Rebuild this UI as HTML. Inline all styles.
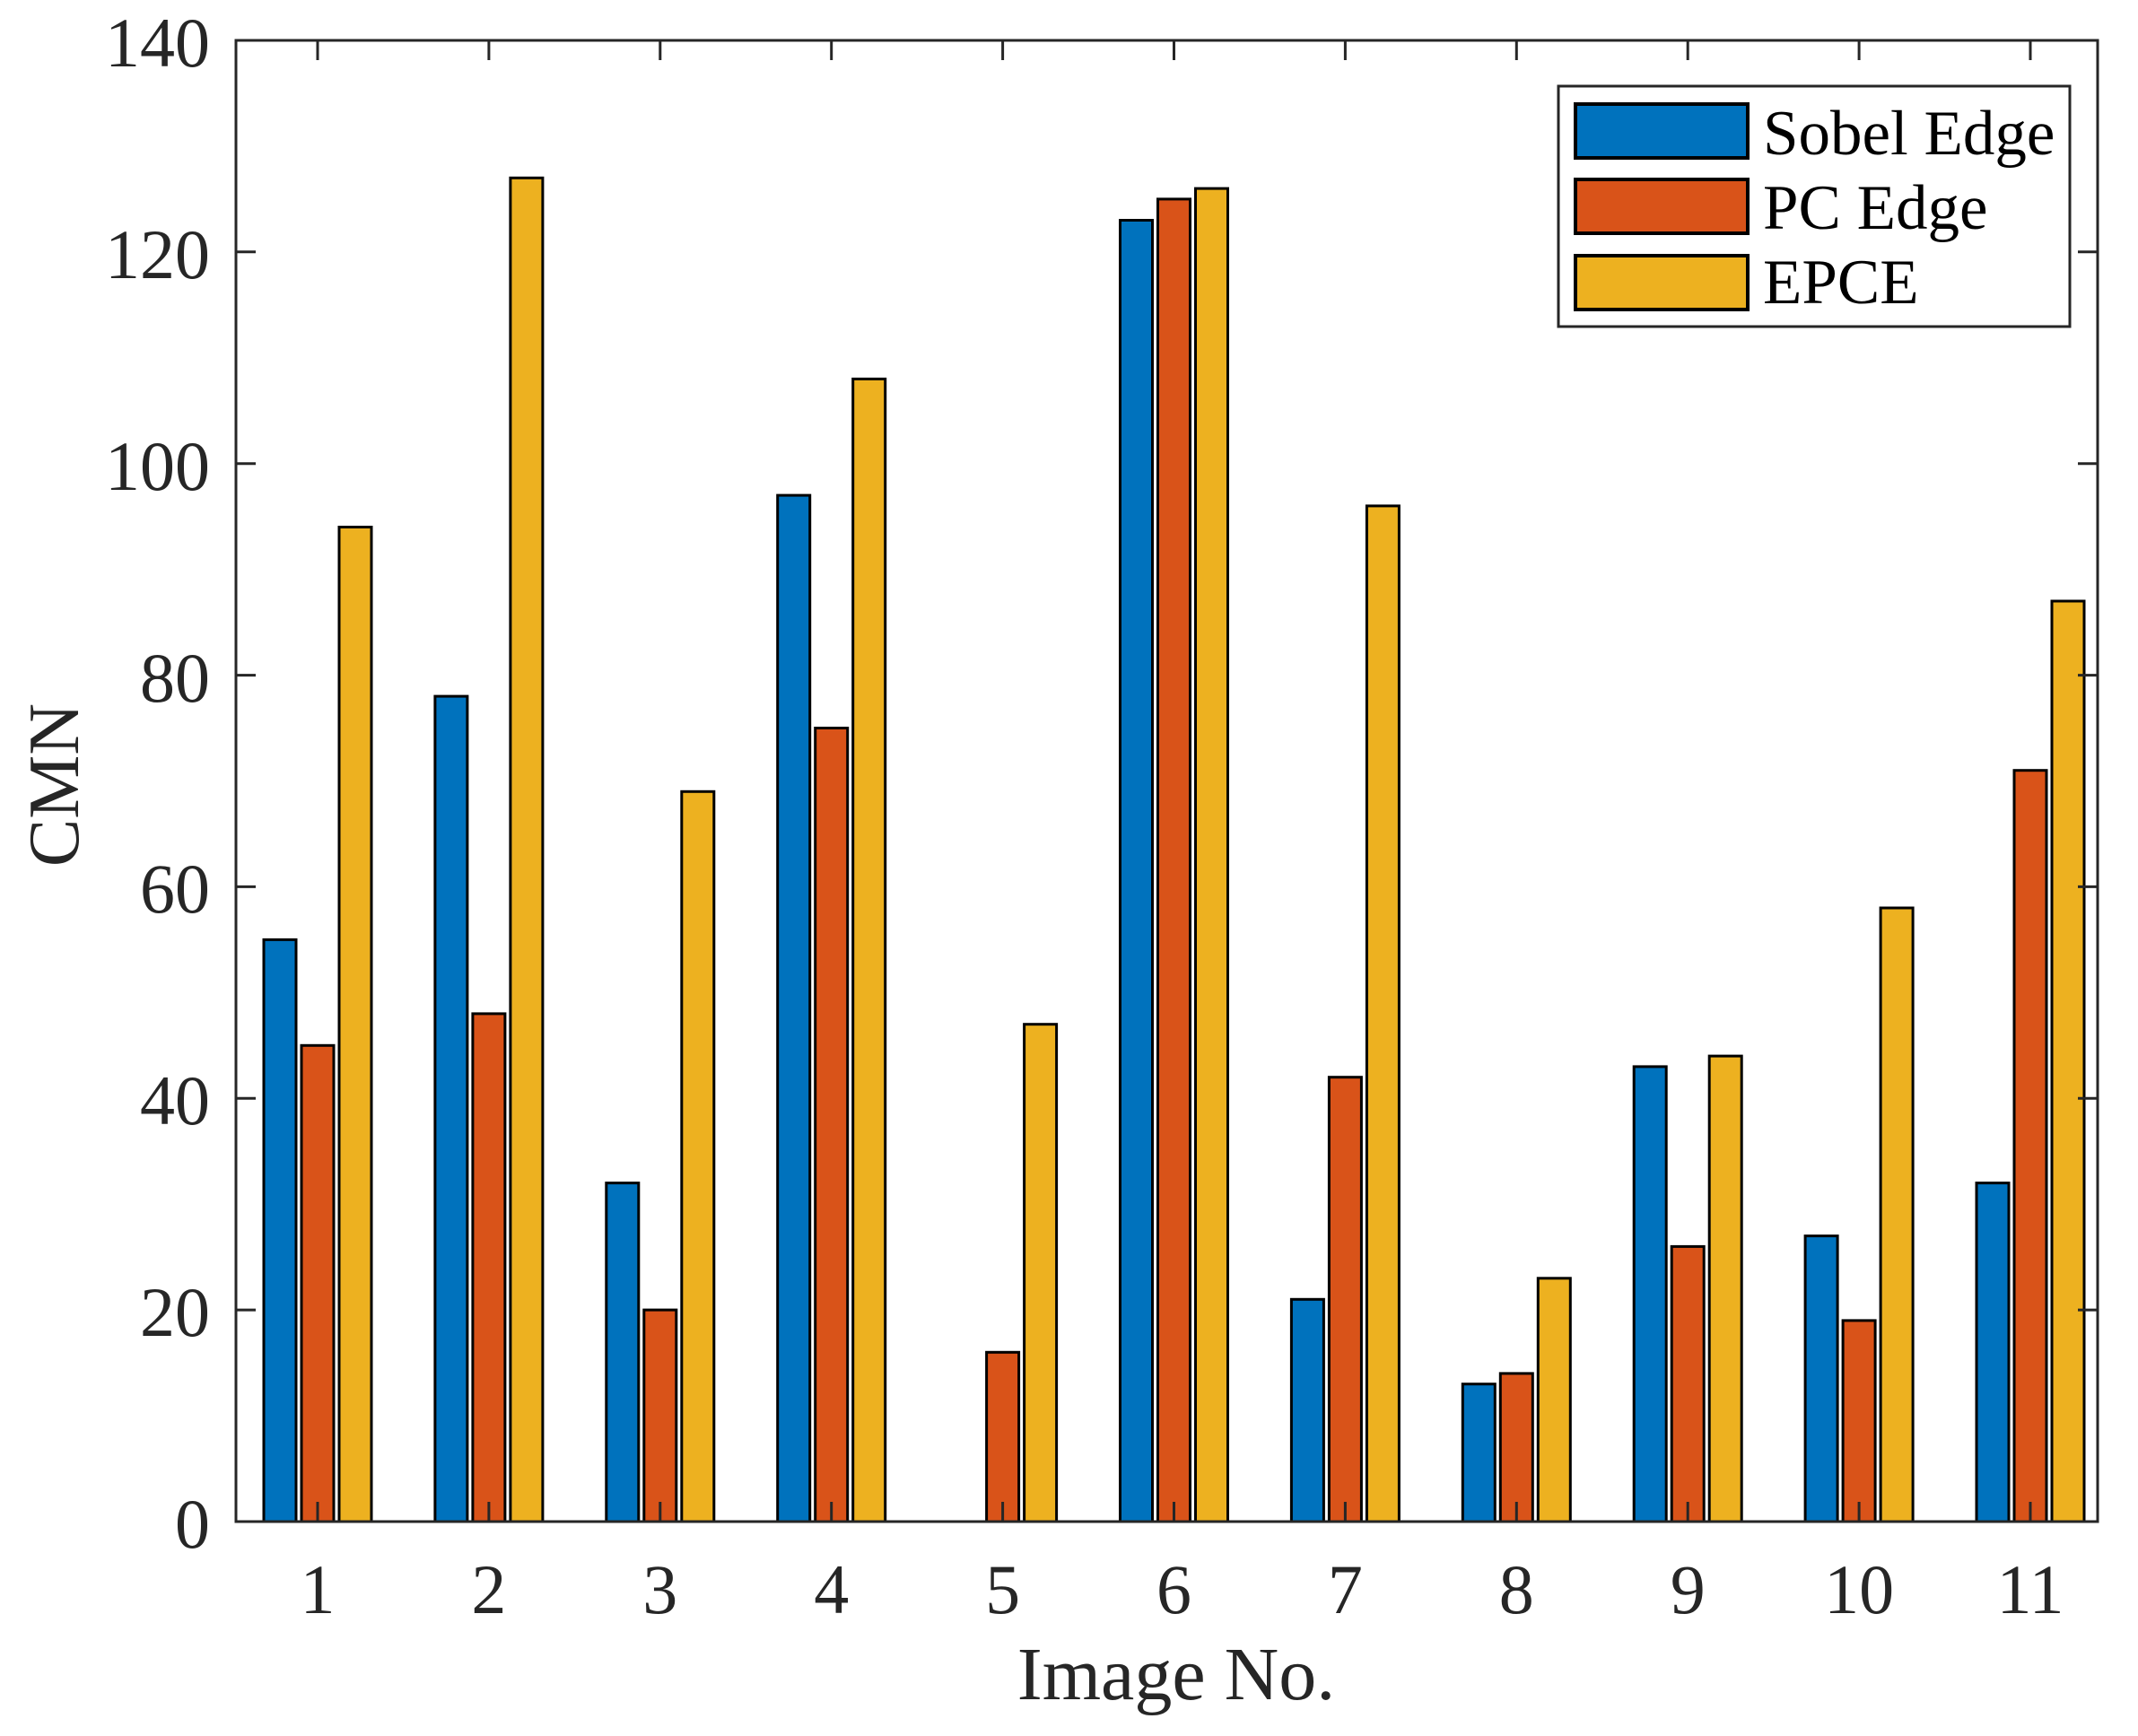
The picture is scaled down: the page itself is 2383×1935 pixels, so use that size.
<!DOCTYPE html>
<html><head><meta charset="utf-8"><style>html,body{margin:0;padding:0;background:#fff}svg{display:block}</style></head><body>
<svg width="2383" height="1935" viewBox="0 0 2383 1935" xmlns="http://www.w3.org/2000/svg" font-family="'Liberation Serif', serif" fill="#262626">
<rect width="2383" height="1935" fill="#fff"/>
<g stroke="#000" stroke-width="3">
<g transform="translate(354,0)"><rect x="-60" y="1047.4" width="36" height="648.6" fill="#0072BD"/><rect x="-18" y="1165.3" width="36" height="530.7" fill="#D95319"/><rect x="24" y="587.5" width="36" height="1108.5" fill="#EDB120"/></g>
<g transform="translate(544.9,0)"><rect x="-60" y="776.1" width="36" height="919.9" fill="#0072BD"/><rect x="-18" y="1129.9" width="36" height="566.1" fill="#D95319"/><rect x="24" y="198.3" width="36" height="1497.7" fill="#EDB120"/></g>
<g transform="translate(735.8,0)"><rect x="-60" y="1318.6" width="36" height="377.4" fill="#0072BD"/><rect x="-18" y="1460.1" width="36" height="235.9" fill="#D95319"/><rect x="24" y="882.3" width="36" height="813.7" fill="#EDB120"/></g>
<g transform="translate(926.7,0)"><rect x="-60" y="552.1" width="36" height="1143.9" fill="#0072BD"/><rect x="-18" y="811.5" width="36" height="884.5" fill="#D95319"/><rect x="24" y="422.4" width="36" height="1273.6" fill="#EDB120"/></g>
<g transform="translate(1117.6,0)"><rect x="-18" y="1507.3" width="36" height="188.7" fill="#D95319"/><rect x="24" y="1141.7" width="36" height="554.3" fill="#EDB120"/></g>
<g transform="translate(1308.5,0)"><rect x="-60" y="245.5" width="36" height="1450.5" fill="#0072BD"/><rect x="-18" y="221.9" width="36" height="1474.1" fill="#D95319"/><rect x="24" y="210.1" width="36" height="1485.9" fill="#EDB120"/></g>
<g transform="translate(1499.4,0)"><rect x="-60" y="1448.3" width="36" height="247.7" fill="#0072BD"/><rect x="-18" y="1200.7" width="36" height="495.3" fill="#D95319"/><rect x="24" y="563.9" width="36" height="1132.1" fill="#EDB120"/></g>
<g transform="translate(1690.3,0)"><rect x="-60" y="1542.7" width="36" height="153.3" fill="#0072BD"/><rect x="-18" y="1530.9" width="36" height="165.1" fill="#D95319"/><rect x="24" y="1424.8" width="36" height="271.2" fill="#EDB120"/></g>
<g transform="translate(1881.2,0)"><rect x="-60" y="1188.9" width="36" height="507.1" fill="#0072BD"/><rect x="-18" y="1389.4" width="36" height="306.6" fill="#D95319"/><rect x="24" y="1177.1" width="36" height="518.9" fill="#EDB120"/></g>
<g transform="translate(2072.1,0)"><rect x="-60" y="1377.6" width="36" height="318.4" fill="#0072BD"/><rect x="-18" y="1471.9" width="36" height="224.1" fill="#D95319"/><rect x="24" y="1012" width="36" height="684" fill="#EDB120"/></g>
<g transform="translate(2263,0)"><rect x="-60" y="1318.6" width="36" height="377.4" fill="#0072BD"/><rect x="-18" y="858.7" width="36" height="837.3" fill="#D95319"/><rect x="24" y="670" width="36" height="1026" fill="#EDB120"/></g>
</g>
<g stroke="#262626" stroke-width="3" fill="none">
<rect x="263" y="45" width="2075" height="1651"/>
<path d="M263 1460.1h22M263 1224.3h22M263 988.4h22M263 752.6h22M263 516.7h22M263 280.8h22M2338 1460.1h-22M2338 1224.3h-22M2338 988.4h-22M2338 752.6h-22M2338 516.7h-22M2338 280.8h-22"/>
<path d="M354 1696v-22M544.9 1696v-22M735.8 1696v-22M926.7 1696v-22M1117.6 1696v-22M1308.5 1696v-22M1499.4 1696v-22M1690.3 1696v-22M1881.2 1696v-22M2072.1 1696v-22M2263 1696v-22M354 45v22M544.9 45v22M735.8 45v22M926.7 45v22M1117.6 45v22M1308.5 45v22M1499.4 45v22M1690.3 45v22M1881.2 45v22M2072.1 45v22M2263 45v22"/>
</g>
<g font-size="78" text-anchor="end">
<text x="234" y="1725">0</text><text x="234" y="1489">20</text><text x="234" y="1253">40</text><text x="234" y="1017">60</text><text x="234" y="782">80</text><text x="234" y="546">100</text><text x="234" y="310">120</text><text x="234" y="74">140</text>
</g>
<g font-size="78" text-anchor="middle">
<text x="354" y="1798">1</text><text x="544.9" y="1798">2</text><text x="735.8" y="1798">3</text><text x="926.7" y="1798">4</text><text x="1117.6" y="1798">5</text><text x="1308.5" y="1798">6</text><text x="1499.4" y="1798">7</text><text x="1690.3" y="1798">8</text><text x="1881.2" y="1798">9</text><text x="2072.1" y="1798">10</text><text x="2263" y="1798">11</text>
</g>
<text x="1311" y="1894" font-size="84" text-anchor="middle">Image No.</text>
<text transform="translate(87,875) rotate(-90)" font-size="80" text-anchor="middle">CMN</text>
<rect x="1737" y="96" width="570" height="268" fill="#fff" stroke="#262626" stroke-width="3"/>
<g stroke="#000" stroke-width="4">
<rect x="1756" y="116" width="192" height="60" fill="#0072BD"/>
<rect x="1756" y="200" width="192" height="60" fill="#D95319"/>
<rect x="1756" y="285" width="192" height="60" fill="#EDB120"/>
</g>
<g font-size="71" fill="#000">
<text x="1965" y="172">Sobel Edge</text>
<text x="1965" y="255">PC Edge</text>
<text x="1965" y="338">EPCE</text>
</g>
</svg>
</body></html>
